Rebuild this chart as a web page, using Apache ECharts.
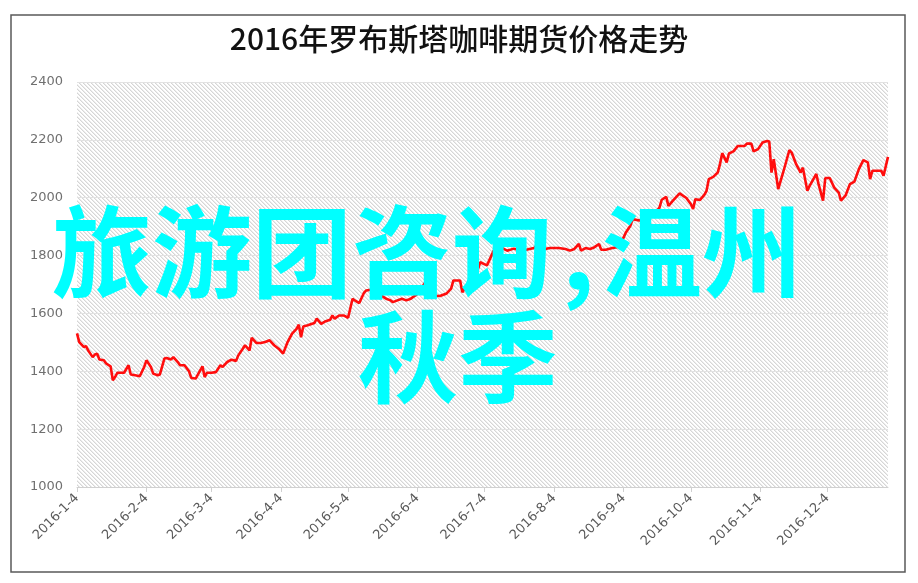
<!DOCTYPE html>
<html>
<head>
<meta charset="utf-8">
<script src="https://cdn.jsdelivr.net/npm/echarts@6/dist/echarts.min.js"></script>
<style>
html,body{margin:0;padding:0;background:#fff;}
#chart{width:918px;height:583px;}
</style>
</head>
<body>
<div id="chart"></div>
<script>
const titleText = '2016年罗布斯塔咖啡期货价格走势';
const overlayPart1 = '旅游团咨询';
const overlayComma = ',';
const overlayPart2 = '温州';
const overlayLine2 = '秋季';
const xTickLabels = ['2016-1-4','2016-2-4','2016-3-4','2016-4-4','2016-5-4','2016-6-4','2016-7-4','2016-8-4','2016-9-4','2016-10-4','2016-11-4','2016-12-4'];
const yMin = 1000, yMax = 2400, yStep = 200;

const dates = [
'2016-1-4','2016-1-5','2016-1-7','2016-1-8','2016-1-9','2016-1-11','2016-1-12','2016-1-13','2016-1-14','2016-1-16',
'2016-1-17','2016-1-19','2016-1-20','2016-1-21','2016-1-22','2016-1-23','2016-1-25','2016-1-27','2016-1-28','2016-1-30',
'2016-2-1','2016-2-3','2016-2-4','2016-2-6','2016-2-7','2016-2-9','2016-2-10','2016-2-12','2016-2-13','2016-2-15',
'2016-2-16','2016-2-18','2016-2-19','2016-2-21','2016-2-23','2016-2-24','2016-2-26','2016-2-27','2016-2-29','2016-3-1',
'2016-3-2','2016-3-4','2016-3-6','2016-3-8','2016-3-9','2016-3-11','2016-3-13','2016-3-15','2016-3-16','2016-3-18',
'2016-3-19','2016-3-21','2016-3-22','2016-3-24','2016-3-26','2016-3-28','2016-3-30','2016-4-1','2016-4-3','2016-4-5',
'2016-4-7','2016-4-9','2016-4-11','2016-4-12','2016-4-13','2016-4-14','2016-4-16','2016-4-19','2016-4-20','2016-4-22',
'2016-4-24','2016-4-26','2016-4-27','2016-4-28','2016-4-30','2016-5-2','2016-5-4','2016-5-6','2016-5-7','2016-5-9',
'2016-5-11','2016-5-12','2016-5-15','2016-5-17','2016-5-18','2016-5-21','2016-5-23','2016-5-24','2016-5-26','2016-5-28',
'2016-5-30','2016-6-1','2016-6-3','2016-6-5','2016-6-7','2016-6-8','2016-6-10','2016-6-14','2016-6-17','2016-6-19',
'2016-6-20','2016-6-23','2016-6-24','2016-6-28','2016-6-30','2016-7-2','2016-7-5','2016-7-8','2016-7-11','2016-7-14',
'2016-7-17','2016-7-20','2016-7-23','2016-7-26','2016-7-28','2016-7-30','2016-7-31','2016-8-2','2016-8-6','2016-8-9',
'2016-8-11','2016-8-13','2016-8-15','2016-8-16','2016-8-18','2016-8-20','2016-8-22','2016-8-24','2016-8-25','2016-8-27',
'2016-8-30','2016-9-1','2016-9-3','2016-9-4','2016-9-5','2016-9-7','2016-9-8','2016-9-11','2016-9-14','2016-9-17',
'2016-9-20','2016-9-21','2016-9-23','2016-9-24','2016-9-26','2016-9-29','2016-10-2','2016-10-4','2016-10-5','2016-10-6',
'2016-10-8','2016-10-10','2016-10-11','2016-10-12','2016-10-14','2016-10-16','2016-10-17','2016-10-18','2016-10-20','2016-10-21',
'2016-10-23','2016-10-25','2016-10-28','2016-10-29','2016-10-31','2016-11-1','2016-11-3','2016-11-5','2016-11-7','2016-11-8',
'2016-11-9','2016-11-10','2016-11-12','2016-11-14','2016-11-17','2016-11-18','2016-11-20','2016-11-22','2016-11-23','2016-11-25',
'2016-11-26','2016-11-29','2016-11-30','2016-12-2','2016-12-3','2016-12-5','2016-12-7','2016-12-9','2016-12-10','2016-12-12',
'2016-12-14','2016-12-16','2016-12-18','2016-12-20','2016-12-22','2016-12-23','2016-12-24','2016-12-28','2016-12-29','2016-12-31'
];
const prices = [
1531,1501,1484,1487,1472,1449,1458,1461,1441,1438,
1427,1417,1369,1380,1395,1395,1395,1421,1389,1386,
1383,1415,1438,1415,1392,1386,1389,1444,1446,1441,
1449,1432,1421,1421,1400,1377,1375,1389,1417,1380,
1395,1395,1397,1421,1415,1432,1440,1436,1455,1478,
1490,1472,1516,1498,1498,1501,1507,1490,1478,1461,
1501,1530,1547,1561,1518,1555,1559,1567,1582,1564,
1573,1578,1593,1582,1593,1593,1585,1651,1645,1636,
1670,1679,1683,1691,1665,1651,1645,1639,1645,1651,
1645,1651,1662,1673,1703,1710,1662,1660,1669,1686,
1714,1714,1673,1721,1731,1777,1766,1817,1829,1817,
1824,1817,1821,1826,1840,1852,1823,1826,1826,1823,
1817,1823,1840,1817,1826,1823,1829,1840,1820,1820,
1826,1829,1846,1863,1880,1903,1926,1921,1935,1938,
1966,1993,2003,1972,1990,2015,1999,1978,1961,1995,
1992,2010,2024,2064,2072,2087,2116,2154,2122,2153,
2160,2179,2179,2187,2187,2160,2168,2191,2196,2194,
2087,2133,2030,2082,2165,2156,2116,2087,2104,2024,
2041,2082,2047,1990,2068,2068,2035,2018,1990,2007,
2047,2056,2099,2130,2122,2064,2093,2093,2076,2141
];

// calendar-day category axis
const categories = [];
(function(){
  const d = new Date(2016,0,4), end = new Date(2016,11,31);
  while (d <= end) {
    categories.push(d.getFullYear() + '-' + (d.getMonth()+1) + '-' + d.getDate());
    d.setDate(d.getDate()+1);
  }
})();
const tickSet = new Set(xTickLabels);
const seriesData = dates.map((d,i) => [d, prices[i]]);

// hatch pattern for plot background
const pc = document.createElement('canvas');
pc.width = 4; pc.height = 4;
const pctx = pc.getContext('2d');
pctx.fillStyle = '#ffffff'; pctx.fillRect(0,0,4,4);
for (let i = 0; i < 4; i++) {
  pctx.fillStyle = '#d6d6d6'; pctx.fillRect(i, i, 1, 1);
  pctx.fillStyle = '#ececec'; pctx.fillRect((i+1)%4, i, 1, 1);
}

const overlayFont = 'bold 100px "Noto Sans CJK SC"';
const chart = echarts.init(document.getElementById('chart'), null, {renderer:'canvas'});
chart.setOption({
  animation: false,
  backgroundColor: '#ffffff',
  title: {
    text: titleText,
    left: 'center',
    top: 19,
    textStyle: {fontFamily: 'Noto Sans CJK SC', fontSize: 30, fontWeight: 500, color: '#111111'}
  },
  grid: {
    left: 77, right: 30, top: 82, bottom: 96,
    show: true,
    borderWidth: 0,
    backgroundColor: {image: pc, repeat: 'repeat'}
  },
  xAxis: {
    type: 'category',
    data: categories,
    boundaryGap: false,
    axisLine: {show: true, lineStyle: {color: '#d0d0d0', width: 1}},
    axisTick: {show: true, length: 5, lineStyle: {color: '#d0d0d0'}, interval: (idx, val) => tickSet.has(val)},
    axisLabel: {
      interval: (idx, val) => tickSet.has(val),
      rotate: 45,
      margin: 9,
      fontFamily: 'DejaVu Sans',
      fontSize: 13,
      color: '#595959'
    },
    splitLine: {show: false}
  },
  yAxis: {
    type: 'value',
    min: yMin, max: yMax, interval: yStep,
    axisLine: {show: false},
    axisTick: {show: false},
    axisLabel: {margin: 14, fontFamily: 'DejaVu Sans', fontSize: 13, color: '#707070', formatter: v => String(v)},
    splitLine: {show: true, lineStyle: {color: '#e2e2e2', width: 1}}
  },
  series: [{
    type: 'line',
    data: seriesData,
    showSymbol: false,
    symbol: 'none',
    lineStyle: {color: '#ff0d0d', width: 2.6},
    z: 3
  }],
  graphic: [
    {type: 'rect', shape: {x: 11, y: 15, width: 894, height: 557}, style: {fill: 'none', stroke: '#5a5a5a', lineWidth: 1.5}, z: 10, silent: true},
    {type: 'text', x: 52, y: 252, style: {text: overlayPart1, font: overlayFont, fill: '#00ffff', textVerticalAlign: 'middle'}, z: 20, silent: true},
    {type: 'text', x: 562, y: 252, style: {text: overlayComma, font: overlayFont, fill: '#00ffff', textVerticalAlign: 'middle'}, z: 20, silent: true},
    {type: 'text', x: 602, y: 252, style: {text: overlayPart2, font: overlayFont, fill: '#00ffff', textVerticalAlign: 'middle'}, z: 20, silent: true},
    {type: 'text', x: 358, y: 357, style: {text: overlayLine2, font: overlayFont, fill: '#00ffff', textVerticalAlign: 'middle'}, z: 20, silent: true}
  ]
});
</script>
</body>
</html>
